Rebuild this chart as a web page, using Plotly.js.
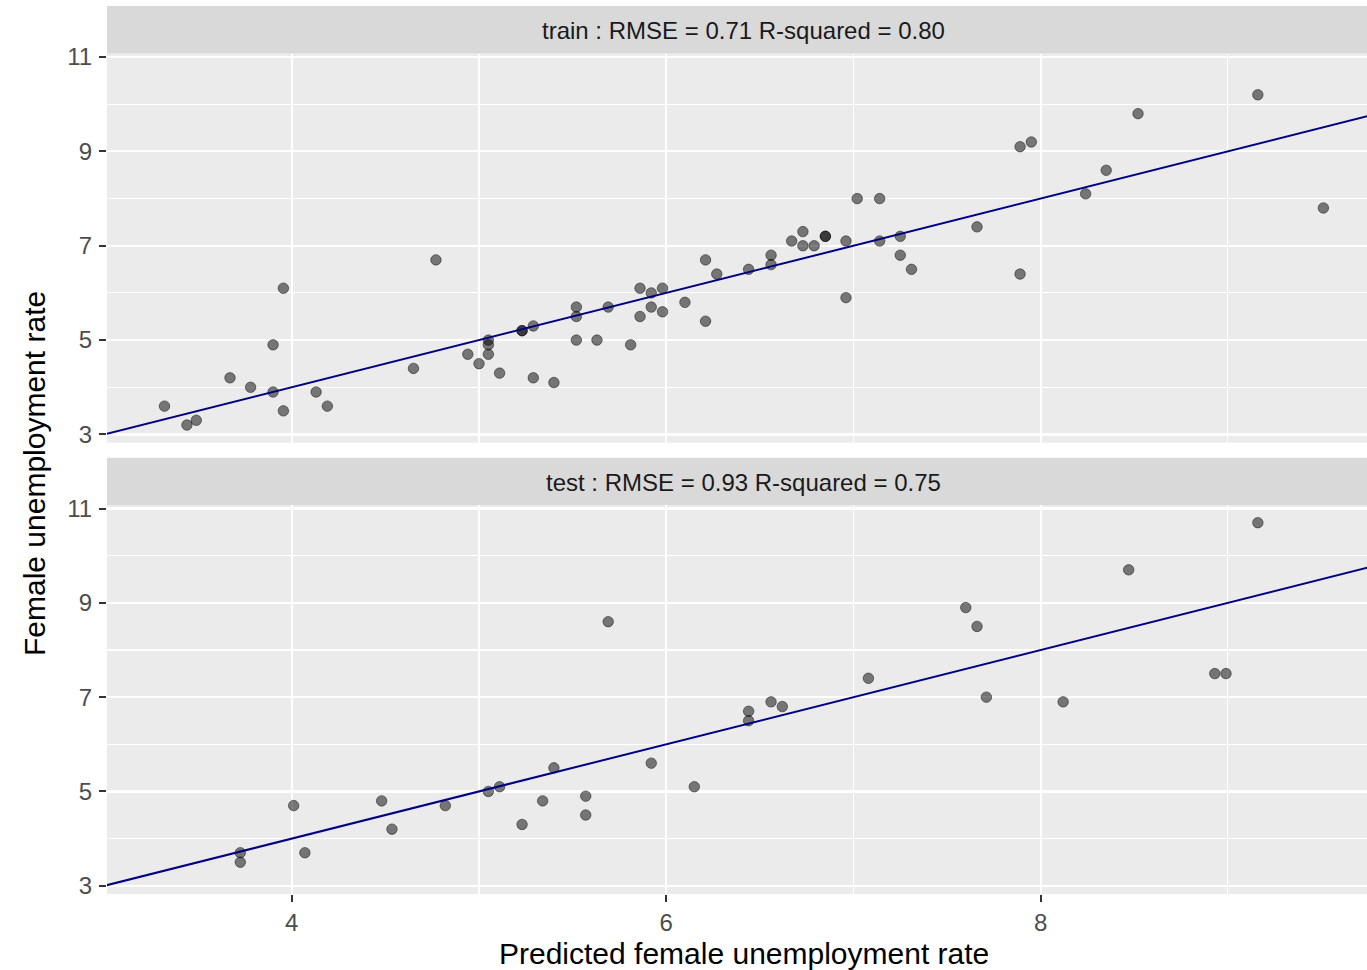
<!DOCTYPE html>
<html>
<head>
<meta charset="utf-8">
<script src="https://cdn.plot.ly/plotly-3.0.1.min.js"></script>
<style>html,body{margin:0;padding:0;background:#fff;}#chart{width:1367px;height:970px;}</style>
</head>
<body>
<div id="chart"></div>
<script>
// Train facet: predicted (x) vs actual (y)
const trainX = [3.32,3.44,3.49,3.67,3.78,3.90,3.90,3.955,3.955,4.13,4.19,4.65,4.77,4.94,5.00,5.05,5.05,5.05,5.11,5.23,5.23,5.29,5.29,5.40,5.52,5.52,5.52,5.63,5.69,5.81,5.86,5.86,5.92,5.92,5.98,5.98,6.10,6.21,6.21,6.27,6.44,6.56,6.56,6.67,6.73,6.73,6.79,6.85,6.85,6.96,6.96,7.02,7.14,7.14,7.25,7.25,7.31,7.66,7.89,7.95,7.89,8.24,8.35,8.52,9.16,9.51];
const trainY = [3.6,3.2,3.3,4.2,4.0,4.9,3.9,6.1,3.5,3.9,3.6,4.4,6.7,4.7,4.5,5.0,4.9,4.7,4.3,5.2,5.2,5.3,4.2,4.1,5.7,5.5,5.0,5.0,5.7,4.9,6.1,5.5,6.0,5.7,6.1,5.6,5.8,6.7,5.4,6.4,6.5,6.8,6.6,7.1,7.3,7.0,7.0,7.2,7.2,7.1,5.9,8.0,8.0,7.1,7.2,6.8,6.5,7.4,9.1,9.2,6.4,8.1,8.6,9.8,10.2,7.8];

// Test facet
const testX = [3.725,3.725,4.01,4.07,4.48,4.535,4.82,5.05,5.11,5.23,5.34,5.40,5.57,5.57,5.69,5.92,6.15,6.44,6.44,6.56,6.62,7.08,7.60,7.66,7.71,8.12,8.47,8.93,8.99,9.16];
const testY = [3.7,3.5,4.7,3.7,4.8,4.2,4.7,5.0,5.1,4.3,4.8,5.5,4.9,4.5,8.6,5.6,5.1,6.7,6.5,6.9,6.8,7.4,8.9,8.5,7.0,6.9,9.7,7.5,7.5,10.7];

// Identity reference line (y = x)
const refLine = [2, 11];

const stripLabels = ["train : RMSE = 0.71 R-squared = 0.80", "test : RMSE = 0.93 R-squared = 0.75"];
const xTicks = [4, 6, 8];
const xMinor = [5, 7, 9];
const yTicks = [3, 5, 7, 9, 11];
const yMinor = [4, 6, 8, 10];
const xTitle = "Predicted female unemployment rate";
const yTitle = "Female unemployment rate";

const FONT = "Liberation Sans, Arial, Helvetica, sans-serif";
const pointStyle = {
  color: "rgba(0,0,0,0.5)",
  size: 10.5,
  line: {color: "rgba(0,0,0,0.45)", width: 1}
};
const lineStyle = {color: "#000080", width: 2};

const traces = [
  {x: trainX, y: trainY, type: "scatter", mode: "markers", marker: pointStyle, xaxis: "x2", yaxis: "y2", hoverinfo: "x+y"},
  {x: refLine, y: refLine, type: "scatter", mode: "lines", line: lineStyle, xaxis: "x2", yaxis: "y2", hoverinfo: "skip"},
  {x: testX, y: testY, type: "scatter", mode: "markers", marker: pointStyle, xaxis: "x", yaxis: "y", hoverinfo: "x+y"},
  {x: refLine, y: refLine, type: "scatter", mode: "lines", line: lineStyle, xaxis: "x", yaxis: "y", hoverinfo: "skip"}
];

const xRange = [3.013, 9.743];
const yRange = [2.825, 11.075];

function xAxis(showLabels, anchor) {
  return {
    range: xRange,
    anchor: anchor,
    domain: [0, 1],
    tickmode: "array",
    tickvals: xTicks,
    ticktext: xTicks.map(String),
    showticklabels: showLabels,
    ticks: showLabels ? "outside" : "",
    ticklen: 7,
    tickwidth: 2,
    tickcolor: "#333333",
    tickfont: {family: FONT, size: 24, color: "#4D4D4D"},
    showgrid: true,
    gridcolor: "#FFFFFF",
    gridwidth: 2.2,
    minor: {tickvals: xMinor, showgrid: true, gridcolor: "#FFFFFF", gridwidth: 1.1, ticks: ""},
    zeroline: false,
    showline: false,
    fixedrange: true
  };
}
function yAxis(domain, anchor) {
  return {
    range: yRange,
    anchor: anchor,
    domain: domain,
    tickmode: "array",
    tickvals: yTicks,
    ticktext: yTicks.map(String),
    ticks: "outside",
    ticklen: 7,
    tickwidth: 2,
    tickcolor: "#333333",
    tickfont: {family: FONT, size: 24, color: "#4D4D4D"},
    ticklabelstandoff: 2,
    showgrid: true,
    gridcolor: "#FFFFFF",
    gridwidth: 2.2,
    minor: {tickvals: yMinor, showgrid: true, gridcolor: "#FFFFFF", gridwidth: 1.1, ticks: ""},
    zeroline: false,
    showline: false,
    fixedrange: true
  };
}

// pixel geometry of plot area (margin t=0, b=76 => 894 px tall)
const H = 894;
const p = px => (H - px) / H;
const topDomain = [p(442.7), p(53.5)];
const botDomain = [0, p(505)];
const topStrip = [p(53.5), p(6)];
const botStrip = [p(505), p(457.7)];
const textX = (743.6 - 107) / 1260;

const layout = {
  width: 1367,
  height: 970,
  margin: {l: 107, r: 0, t: 0, b: 76},
  paper_bgcolor: "#FFFFFF",
  plot_bgcolor: "#EBEBEB",
  showlegend: false,
  font: {family: FONT},
  xaxis: xAxis(true, "y"),
  yaxis: yAxis(botDomain, "x"),
  xaxis2: xAxis(false, "y2"),
  yaxis2: yAxis(topDomain, "x2"),
  shapes: [
    {type: "rect", xref: "paper", yref: "paper", x0: 0, x1: 1, y0: topStrip[0], y1: topStrip[1], fillcolor: "#D9D9D9", line: {width: 0}, layer: "below"},
    {type: "rect", xref: "paper", yref: "paper", x0: 0, x1: 1, y0: botStrip[0], y1: botStrip[1], fillcolor: "#D9D9D9", line: {width: 0}, layer: "below"}
  ],
  annotations: [
    {text: stripLabels[0], xref: "paper", yref: "paper", x: textX, y: (topStrip[0] + topStrip[1]) / 2 - 0.001, xanchor: "center", yanchor: "middle", showarrow: false, font: {family: FONT, size: 24, color: "#1A1A1A"}},
    {text: stripLabels[1], xref: "paper", yref: "paper", x: textX, y: (botStrip[0] + botStrip[1]) / 2 - 0.001, xanchor: "center", yanchor: "middle", showarrow: false, font: {family: FONT, size: 24, color: "#1A1A1A"}},
    {text: xTitle, xref: "paper", yref: "paper", x: textX, y: p(953), xanchor: "center", yanchor: "middle", showarrow: false, font: {family: FONT, size: 30, color: "#000000"}},
    {text: yTitle, xref: "paper", yref: "paper", x: (34 - 107) / 1260, y: p(474), xanchor: "center", yanchor: "middle", textangle: -90, showarrow: false, font: {family: FONT, size: 30, color: "#000000"}}
  ]
};

Plotly.newPlot("chart", traces, layout, {displayModeBar: false, staticPlot: true});
</script>
</body>
</html>
